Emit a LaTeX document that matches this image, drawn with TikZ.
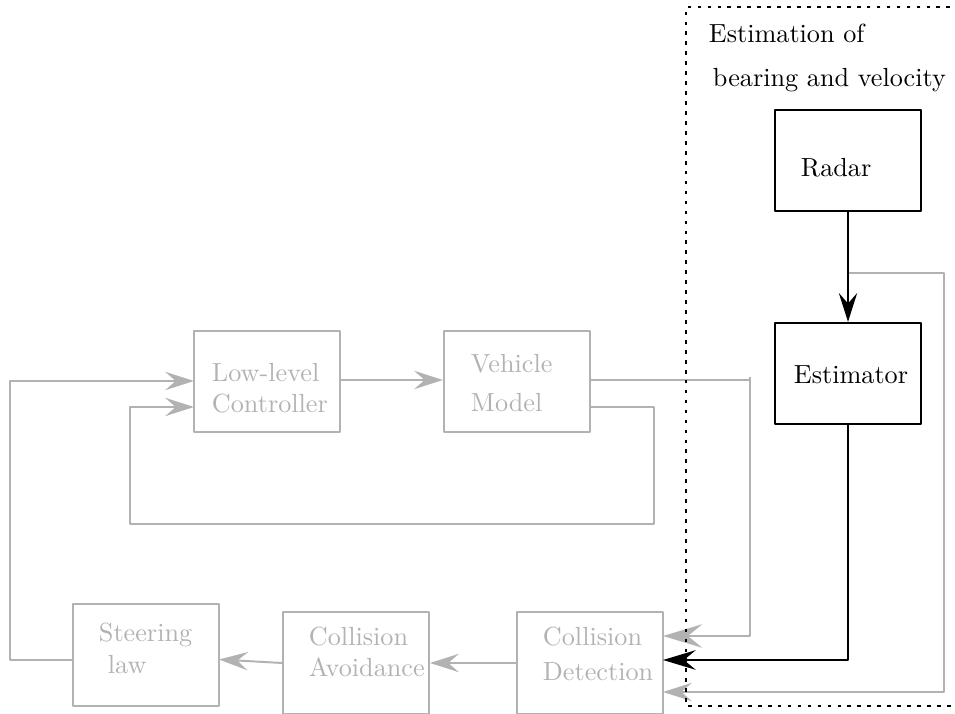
\documentclass[tikz,border=0pt]{standalone}
\usetikzlibrary{arrows.meta}
\definecolor{faded}{gray}{0.70}
\begin{document}
\begin{tikzpicture}[x=1.342mm, y=1.342mm, line join=round, line width=0.75pt,
	block/.style={draw, minimum width=19.6mm, minimum height=13.6mm},
	lbl/.style={anchor=west, inner sep=0, align=left},
	dim/.style={faded, text=faded},
	>={Stealth[length=11pt, width=7pt, inset=4pt]},
	big/.style={-{Stealth[length=15pt, width=9pt, inset=5.5pt]}},
	mid/.style={-{Stealth[length=12.5pt, width=7.5pt, inset=4.5pt]}}]
	\useasboundingbox (0,0) rectangle (95.5,71.4);
	%%%%%%%%%%%%%%%%%%%%%%%%%%%%%%%%%
	\node[block] (radar) at (84.8,55.35) {};
	\node[block] (est) at (84.8,34.05) {};
	\node[block, dim] (llc) at (26.7,33.25) {};
	\node[block, dim] (veh) at (51.7,33.25) {};
	\node[block, dim] (steer) at (14.6,5.9) {};
	\node[block, dim] (avo) at (35.6,5.1) {};
	\node[block, dim] (det) at (59.0,5.1) {};
	%%%%%%%%%%%%%%%%%%%%%%%%%%%%%%%%%
	\node[lbl] (radar-t) at (80.0,54.6) {Radar};
	\node[lbl] (est-t) at (79.3,33.9) {Estimator};
	\node[lbl, dim] (llc-t) at (21.1,32.6) {Low-level\\Controller};
	\node[lbl, dim] (veh-t) at (47.0,33.1) {Vehicle\\[3pt]Model};
	\node[lbl, dim] (steer-t) at (9.8,6.55) {Steering\\[0.5pt]\hspace{3.4pt}law};
	\node[lbl, dim] (avo-t) at (30.8,6.2) {Collision\\Avoidance};
	\node[lbl, dim] (det-t) at (54.2,6.0) {Collision\\[1.5pt]Detection};
	%%%%%%%%%%%%%%%%%%%%%%%%%%%%%%%%%
	\coordinate (tap) at (84.8,44.1);
	\coordinate (rr) at (94.4,44.1);
	\coordinate (rb) at (94.4,2.2);
	\coordinate (din1) at (66.3,7.8);
	\coordinate (din2) at (66.3,5.4);
	\coordinate (din3) at (66.3,2.2);
	\coordinate (vo1) at (59.0,33.4);
	\coordinate (vo2) at (59.0,30.7);
	\coordinate (vt) at (75.0,33.4);
	\coordinate (vb) at (75.0,7.8);
	\coordinate (fb1) at (65.4,30.7);
	\coordinate (fb2) at (65.4,19.0);
	\coordinate (fb3) at (13.0,19.0);
	\coordinate (fb4) at (13.0,30.7);
	\coordinate (lin2) at (19.4,30.7);
	\coordinate (lin1) at (19.4,33.3);
	\coordinate (so1) at (7.3,5.4);
	\coordinate (so2) at (1.0,5.4);
	\coordinate (so3) at (1.0,33.3);
	\coordinate (eb) at (84.8,5.4);
	\coordinate (stin) at (21.9,5.45);
	%%%%%%%%%%%%%%%%%%%%%%%%%%%%%%%%%
	\begin{scope}[faded]
		\draw[->] (llc.east |- vo1) -- (veh.west |- vo1);
		\draw[->] (vo2) -- (fb1) -- (fb2) -- (fb3) -- (fb4) -- (lin2);
		\draw[->] (so1) -- (so2) -- (so3) -- (lin1);
		\draw[->] (det.west) -- (avo.east);
		\draw[->] (avo.west) -- (stin);
		\draw (vt) -- ++(0,0.25);
		\draw[big] (vo1) -- (vt) -- (vb) -- (din1);
		\draw[->] (tap) -- (rr) -- (rb) -- (din3);
	\end{scope}
	\draw[->] (radar) -- (est);
	\draw[mid] (est.south) -- (eb) -- (din2);
	%%%%%%%%%%%%%%%%%%%%%%%%%%%%%%%%%
	\draw[line width=1.1pt, dash pattern=on 1.4pt off 2.4pt] (97,70.7) -- (68.6,70.7) -- (68.6,0.8) -- (97,0.8);
	\node[anchor=west, inner sep=0] (title1) at (70.8,68.1) {Estimation of};
	\node[anchor=west, inner sep=0] (title2) at (71.2,63.4) {bearing and velocity};
\end{tikzpicture}
\end{document}
